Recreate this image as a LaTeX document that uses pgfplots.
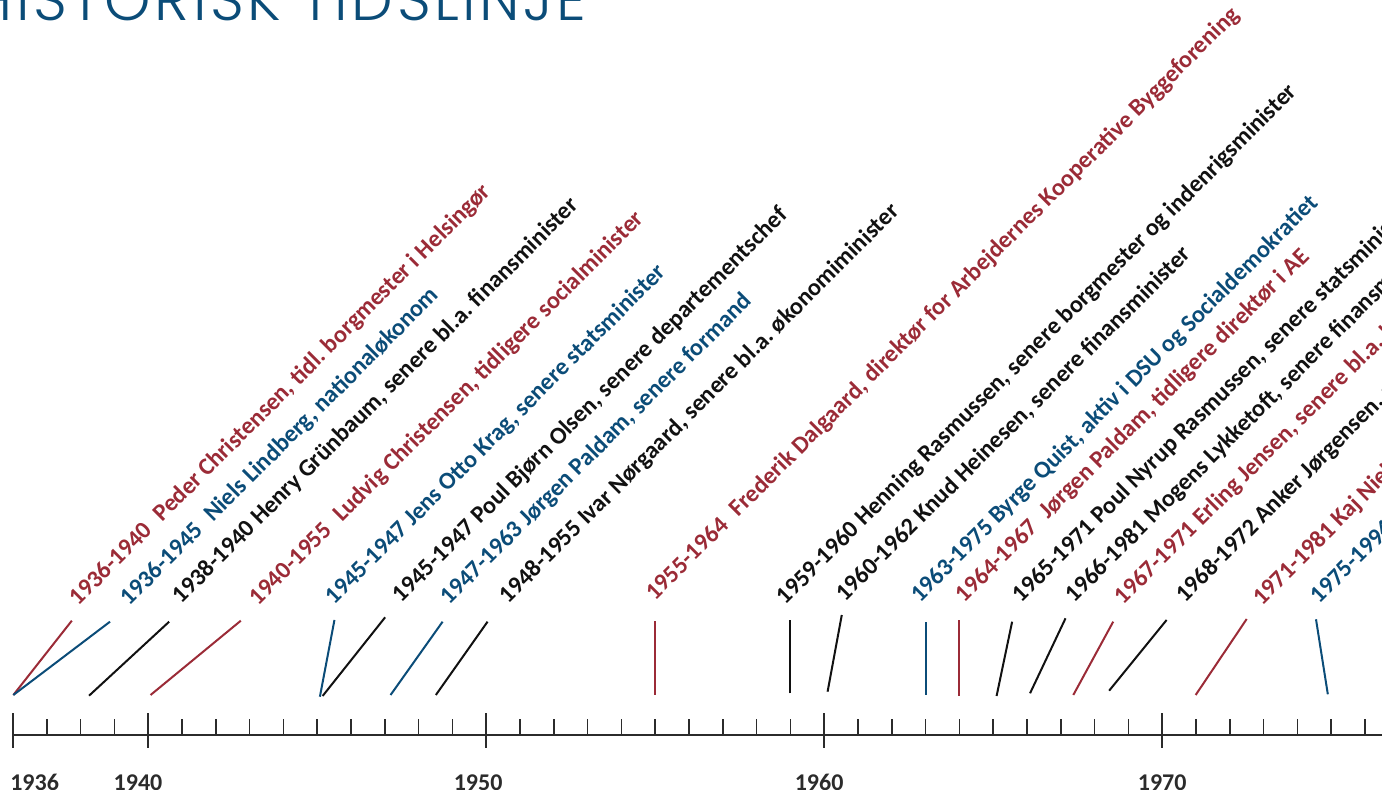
\documentclass[border=0pt]{standalone}
\usepackage{pgfplots}
\pgfplotsset{compat=1.18}
\usepackage{fontspec}
\setmainfont{Carlito}
\newfontfamily\titlefont{Poppins Light}[LetterSpace=6]

\definecolor{tlred}{HTML}{9B2B37}
\definecolor{tlblue}{HTML}{0B4C78}
\definecolor{tlblack}{HTML}{111111}
\definecolor{tlgray}{HTML}{2B2B2B}

% tekst til de skraa etiketter
\newcommand{\lab}{\bfseries\fontsize{12.1}{14}\selectfont\frenchspacing}

\begin{document}
\begin{tikzpicture}
\begin{axis}[
  width=691pt, height=395pt, scale only axis,
  xmin=1935.615, xmax=1976.503,
  ymin=-55, ymax=735,
  clip=false,
  axis x line*=middle, axis y line=none,
  x axis line style={tlgray, line width=1pt, shorten <=6.5pt},
  xtick={1936,1940,1950,1960,1970},
  xticklabels={},
  % aarstallene staar lidt forskudt i forhold til stregerne
  extra x ticks={1936.64,1939.70,1949.76,1959.85,1970.0},
  extra x tick labels={1936,1940,1950,1960,1970},
  extra x tick style={major tick length=0pt},
  minor xtick={1937,1938,...,1976},
  tick align=center,
  major tick length=17.5pt,
  minor tick length=8pt,
  major tick style={line width=0.85pt, tlgray, yshift=2.25pt},
  minor tick style={line width=0.85pt, tlgray, yshift=4pt},
  xticklabel style={anchor=north, inner sep=0pt, yshift=-19.5pt, text=tlgray,
    font=\bfseries\fontsize{12}{14}\selectfont},
]

% forbindelseslinjer fra tidslinjen til etiketterne
\pgfplotsset{every axis plot/.append style={line width=1pt}}
\addplot[tlred]   coordinates {(1936.01,40) (1937.74,114.3)};
\addplot[tlblue]  coordinates {(1936.01,40) (1938.87,113.3)};
\addplot[tlblack] coordinates {(1938.25,39.3) (1940.62,113.3)};
\addplot[tlred]   coordinates {(1940.07,40) (1942.74,114.3)};
\addplot[tlblue]  coordinates {(1945.08,38.3) (1945.51,115)};
\addplot[tlblack] coordinates {(1945.16,39) (1947.01,117.7)};
\addplot[tlblue]  coordinates {(1947.17,40) (1948.71,113.3)};
\addplot[tlblack] coordinates {(1948.51,40) (1950.04,113.3)};
\addplot[tlred]   coordinates {(1955,40) (1955,114.3)};
\addplot[tlblack] coordinates {(1959,41.7) (1959,115)};
\addplot[tlblack] coordinates {(1960.10,43.3) (1960.52,120)};
\addplot[tlblue]  coordinates {(1963,40) (1963,113)};
\addplot[tlred]   coordinates {(1964,39) (1964,115)};
\addplot[tlblack] coordinates {(1965.10,39) (1965.56,113.3)};
\addplot[tlblack] coordinates {(1966.09,41.7) (1967.14,116.7)};
\addplot[tlred]   coordinates {(1967.37,40) (1968.55,113.3)};
\addplot[tlblack] coordinates {(1968.43,44.3) (1970.13,115)};
\addplot[tlred]   coordinates {(1970.99,40) (1972.50,116)};
\addplot[tlblue]  coordinates {(1974.90,40.7) (1974.55,115.7)};

\tikzset{lbl/.style={rotate=45, anchor=base west, inner sep=0pt, font=\lab,
  xshift=3.5pt, yshift=-1.2pt}}
\node[lbl, text=tlred]   at (axis cs:1937.74,125) {1936-1940\hspace{0.3em} Peder Christensen, tidl. borgmester i Helsingør};
\node[lbl, text=tlblue]  at (axis cs:1939.25,125) {1936-1945\hspace{0.3em} Niels Lindberg, nationaløkonom};
\node[lbl, text=tlblack] at (axis cs:1940.79,127) {1938-1940 Henry Grünbaum, senere bl.a. finansminister};
\node[lbl, text=tlred]   at (axis cs:1943.06,125) {1940-1955\hspace{0.3em} Ludvig Christensen, tidligere socialminister};
\node[lbl, text=tlblue]  at (axis cs:1945.32,126) {1945-1947 Jens Otto Krag, senere statsminister};
\node[lbl, text=tlblack] at (axis cs:1947.30,128) {1945-1947 Poul Bjørn Olsen, senere departementschef};
\node[lbl, text=tlblue]  at (axis cs:1948.72,126) {1947-1963 Jørgen Paldam, senere formand};
\node[lbl, text=tlblack] at (axis cs:1950.46,127) {1948-1955 Ivar Nørgaard, senere bl.a. økonomiminister};
\node[lbl, text=tlred]   at (axis cs:1954.79,130) {1955-1964\hspace{0.3em} Frederik Dalgaard, direktør for Arbejdernes Kooperative Byggeforening};
\node[lbl, text=tlblack] at (axis cs:1958.66,126) {1959-1960 Henning Rasmussen, senere borgmester og indenrigsminister};
\node[lbl, text=tlblack] at (axis cs:1960.41,129) {1960-1962 Knud Heinesen, senere finansminister};
\node[lbl, text=tlblue]  at (axis cs:1962.63,128) {1963-1975 Byrge Quist, aktiv i DSU og Socialdemokratiet};
\node[lbl, text=tlred]   at (axis cs:1963.96,128) {1964-1967\hspace{0.3em} Jørgen Paldam, tidligere direktør i AE};
\node[lbl, text=tlblack] at (axis cs:1965.64,128) {1965-1971 Poul Nyrup Rasmussen, senere statsminister};
\node[lbl, text=tlblack] at (axis cs:1967.21,128) {1966-1981 Mogens Lykketoft, senere finansminister};
\node[lbl, text=tlred]   at (axis cs:1968.66,126) {1967-1971 Erling Jensen, senere bl.a. boligminister};
\node[lbl, text=tlblack] at (axis cs:1970.47,128) {1968-1972 Anker Jørgensen, senere statsminister};
\node[lbl, text=tlred]   at (axis cs:1972.75,125) {1971-1981 Kaj Nielsen};
\node[lbl, text=tlblue]  at (axis cs:1974.46,127) {1975-1994};

% overskrift, kun nederste del er synlig
\node[anchor=base east, inner sep=0pt, text=tlblue,
  font=\titlefont\fontsize{29.5}{32}\selectfont] at (axis cs:1952.98,714) {HISTORISK TIDSLINJE};
\end{axis}
\pgfresetboundingbox
\useasboundingbox (current axis.south west) rectangle (current axis.north east);
\end{tikzpicture}
\end{document}
